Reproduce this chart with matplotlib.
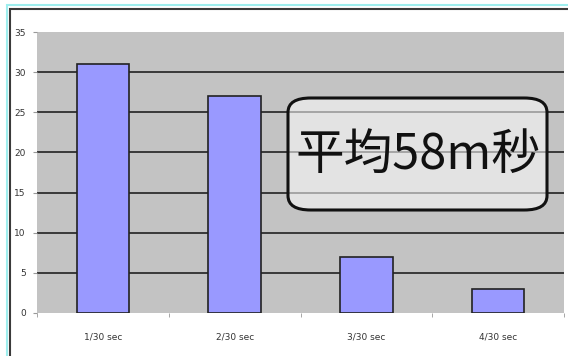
import matplotlib.pyplot as plt
from matplotlib.patches import Rectangle, FancyBboxPatch

plt.rcParams['font.family'] = ['Noto Sans CJK JP', 'DejaVu Sans']

# data
categories = ["1/30 sec", "2/30 sec", "3/30 sec", "4/30 sec"]
counts = [31, 27, 7, 3]
y_ticks = [0, 5, 10, 15, 20, 25, 30, 35]
note = "平均58m秒"

W, H = 568, 356
fig = plt.figure(figsize=(W / 100, H / 100), dpi=100)
fig.patch.set_facecolor("white")

# outer frame: cyan line then dark line (right/bottom run off the image)
fig.patches.append(Rectangle((7 / W, -0.1), 1.2, (H - 5) / H + 0.1, transform=fig.transFigure,
                             fill=False, edgecolor="#9eeeee", linewidth=1.5))
fig.patches.append(Rectangle((10 / W, -0.1), 1.2, (H - 9) / H + 0.1, transform=fig.transFigure,
                             fill=False, edgecolor="#3a3a3a", linewidth=1.5))

ax = fig.add_axes([37 / W, (H - 313) / H, 527 / W, 281 / H])
ax.set_facecolor("#c3c3c3")
x = range(len(categories))
ax.bar(x, counts, width=0.4, color="#9999ff", edgecolor="#222222", linewidth=1.2, zorder=3)

ax.set_xlim(-0.5, len(categories) - 0.5)
ax.set_ylim(0, 35)
ax.set_yticks(y_ticks)
ax.set_yticklabels([str(v) for v in y_ticks], fontsize=6.5, color="#333333",
                   family=['Liberation Sans Narrow', 'DejaVu Sans'])
ax.set_xticks(list(x))
ax.set_xticklabels(categories, fontsize=6.5, color="#333333",
                   family=['Liberation Sans Narrow', 'DejaVu Sans'])
ax.set_xticks([i - 0.5 for i in range(len(categories) + 1)], minor=True)
ax.tick_params(axis="x", which="major", length=0, pad=14)
ax.tick_params(axis="x", which="minor", length=3, color="#999999")
ax.tick_params(axis="y", length=3, color="#999999", pad=5)

for v in y_ticks[1:-1]:
    ax.axhline(v, color="#222222", linewidth=1.2, zorder=1)
for s in ax.spines.values():
    s.set_visible(False)

# rounded note box over the plot
box = FancyBboxPatch((288 / W, (H - 210) / H), 259 / W, 112 / H,
                     boxstyle="round,pad=0,rounding_size=0.04", transform=fig.transFigure,
                     facecolor=(1, 1, 1, 0.55), edgecolor="#111111", linewidth=2.2, zorder=5)
fig.patches.append(box)
fig.text(418 / W, (H - 155) / H, note, fontsize=35, ha="center", va="center",
         color="#111111", zorder=6)

fig.savefig("out.png", dpi=100)
